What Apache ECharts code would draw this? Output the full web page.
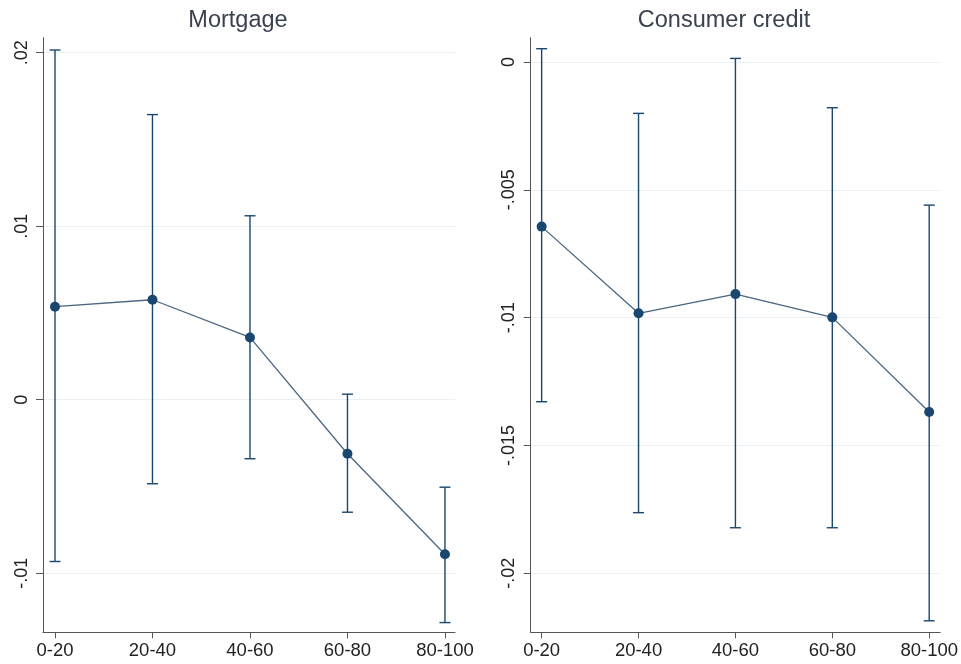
<!DOCTYPE html>
<html>
<head>
<meta charset="utf-8">
<script src="https://cdn.jsdelivr.net/npm/echarts@6/dist/echarts.min.js"></script>
<style>
html,body{margin:0;padding:0;background:#fff;}
#chart{width:961px;height:664px;}
</style>
</head>
<body>
<div id="chart"></div>
<script>
const categories = ['0-20', '20-40', '40-60', '60-80', '80-100'];
const titles = ['Mortgage', 'Consumer credit'];

const mortgageCoef  = [0.00536, 0.00576, 0.00359, -0.00311, -0.0089];
const mortgageUpper = [0.02015, 0.01643, 0.0106, 0.00032, -0.00504];
const mortgageLower = [-0.00932, -0.00484, -0.0034, -0.00648, -0.01284];

const creditCoef  = [-0.00644, -0.00983, -0.00908, -0.00999, -0.01369];
const creditUpper = [0.00052, -0.00201, 0.00014, -0.00179, -0.0056];
const creditLower = [-0.01329, -0.01763, -0.01822, -0.01822, -0.02186];

const mortgageTicks = [-0.01, 0, 0.01, 0.02];
const mortgageTickLabels = ['-.01', '0', '.01', '.02'];
const creditTicks = [-0.02, -0.015, -0.01, -0.005, 0];
const creditTickLabels = ['-.02', '-.015', '-.01', '-.005', '0'];

const xPos = categories.map((c, i) => i + 1);
const markColor = '#1a476f';
const lineColor = '#4a6580';
const axisColor = '#555555';
const gridColor = '#eaf1f4';
const FONT = 'Liberation Sans, Arial, sans-serif';

function labelFor(ticks, labels) {
  return function (v) {
    for (let i = 0; i < ticks.length; i++) {
      if (Math.abs(ticks[i] - v) < 1e-9) return labels[i];
    }
    return '';
  };
}

function errRender(params, api) {
  const x = api.value(0), lo = api.value(1), hi = api.value(2);
  const a = api.coord([x, hi]);
  const b = api.coord([x, lo]);
  const hw = 5.5;
  const st = { stroke: markColor, lineWidth: 1.4 };
  return {
    type: 'group',
    children: [
      { type: 'line', shape: { x1: a[0], y1: a[1], x2: b[0], y2: b[1] }, style: st },
      { type: 'line', shape: { x1: a[0] - hw, y1: a[1], x2: a[0] + hw, y2: a[1] }, style: st },
      { type: 'line', shape: { x1: b[0] - hw, y1: b[1], x2: b[0] + hw, y2: b[1] }, style: st }
    ]
  };
}

function xAxisDef(gi, min, max) {
  return {
    type: 'value', gridIndex: gi, min: min, max: max,
    axisLine: { show: true, onZero: false, lineStyle: { color: axisColor, width: 1 } },
    axisTick: { show: true, length: 6, customValues: xPos, lineStyle: { color: axisColor } },
    axisLabel: {
      customValues: xPos, margin: 9, color: '#222', fontSize: 18.5, fontFamily: FONT,
      formatter: v => categories[Math.round(v) - 1] || ''
    },
    splitLine: { show: false }
  };
}

function yAxisDef(gi, min, max, ticks, labels, margin) {
  return {
    type: 'value', gridIndex: gi, min: min, max: max,
    axisLine: { show: true, onZero: false, lineStyle: { color: axisColor, width: 1 } },
    axisTick: { show: true, length: 7, customValues: ticks, lineStyle: { color: axisColor } },
    axisLabel: {
      customValues: ticks, rotate: 90, margin: margin, color: '#222', fontSize: 18, fontFamily: FONT,
      formatter: labelFor(ticks, labels)
    },
    splitLine: { show: true, lineStyle: { color: gridColor, width: 1 } }
  };
}

const chart = echarts.init(document.getElementById('chart'), null, { renderer: 'canvas' });
chart.setOption({
  backgroundColor: '#ffffff',
  animation: false,
  title: [
    { text: titles[0], left: 233, top: 4, textAlign: 'center',
      textStyle: { fontSize: 23.5, fontWeight: 'normal', color: '#3a4250', fontFamily: FONT } },
    { text: titles[1], left: 719, top: 4, textAlign: 'center',
      textStyle: { fontSize: 23.5, fontWeight: 'normal', color: '#3a4250', fontFamily: FONT } }
  ],
  grid: [
    { left: 43, right: 506, top: 37.7, bottom: 31.7 },
    { left: 530.7, right: 19.3, top: 37.7, bottom: 31.7 }
  ],
  xAxis: [
    xAxisDef(0, 0.877, 5.103),
    xAxisDef(1, 0.887, 5.113)
  ],
  yAxis: [
    yAxisDef(0, -0.0134, 0.02086, mortgageTicks, mortgageTickLabels, 12),
    yAxisDef(1, -0.02231, 0.00095, creditTicks, creditTickLabels, 13)
  ],
  series: [
    { type: 'custom', xAxisIndex: 0, yAxisIndex: 0, renderItem: errRender,
      encode: { x: 0, y: [1, 2] },
      data: xPos.map((x, i) => [x, mortgageLower[i], mortgageUpper[i]]), z: 2 },
    { type: 'line', xAxisIndex: 0, yAxisIndex: 0,
      data: xPos.map((x, i) => [x, mortgageCoef[i]]),
      symbol: 'circle', symbolSize: 10,
      lineStyle: { color: lineColor, width: 1.3 },
      itemStyle: { color: markColor }, z: 3 },
    { type: 'custom', xAxisIndex: 1, yAxisIndex: 1, renderItem: errRender,
      encode: { x: 0, y: [1, 2] },
      data: xPos.map((x, i) => [x, creditLower[i], creditUpper[i]]), z: 2 },
    { type: 'line', xAxisIndex: 1, yAxisIndex: 1,
      data: xPos.map((x, i) => [x, creditCoef[i]]),
      symbol: 'circle', symbolSize: 10,
      lineStyle: { color: lineColor, width: 1.3 },
      itemStyle: { color: markColor }, z: 3 }
  ]
});
</script>
</body>
</html>
